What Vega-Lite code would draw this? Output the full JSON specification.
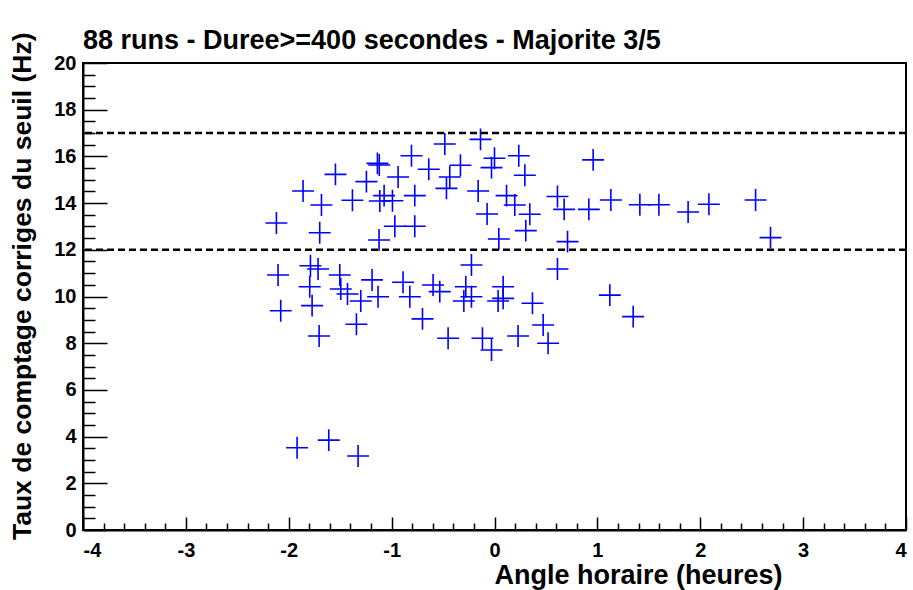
{
  "$schema": "https://vega.github.io/schema/vega-lite/v6.json",
  "width": 823,
  "height": 467,
  "autosize": {"type": "none"},
  "padding": {"left": 83, "top": 63, "right": 7, "bottom": 60},
  "background": "white",
  "config": {
    "view": {"stroke": "black", "strokeWidth": 2},
    "font": "Liberation Sans",
    "axis": {"grid": false, "labelFont": "Liberation Sans", "labelFontWeight": "bold", "labelFontSize": 20, "labelColor": "black", "titleFont": "Liberation Sans", "titleFontWeight": "bold", "titleColor": "black", "domainColor": "black", "domainWidth": 2, "tickColor": "black", "tickWidth": 1.5}
  },
  "title": {"text": "88 runs - Duree>=400 secondes - Majorite 3/5", "anchor": "start", "frame": "group", "font": "Liberation Sans", "fontWeight": "bold", "fontSize": 27, "color": "black", "offset": -23},
  "data": {"values": [
    {"x": -0.807, "y": 16.03}, {"x": -1.138, "y": 15.70}, {"x": -1.12, "y": 15.63}, {"x": -1.546, "y": 15.23},
    {"x": -0.639, "y": 15.45}, {"x": -0.937, "y": 15.12}, {"x": -1.245, "y": 14.92}, {"x": -1.861, "y": 14.52},
    {"x": -1.073, "y": 14.32}, {"x": -0.775, "y": 14.32}, {"x": -1.381, "y": 14.12}, {"x": -1.115, "y": 14.09},
    {"x": -0.992, "y": 14.10}, {"x": -1.682, "y": 13.92}, {"x": -2.120, "y": 13.15}, {"x": -1.699, "y": 12.73},
    {"x": -0.969, "y": 13.01}, {"x": -0.775, "y": 13.01}, {"x": -1.122, "y": 12.42}, {"x": -0.136, "y": 16.73},
    {"x": -0.483, "y": 16.53}, {"x": 0.0, "y": 15.92}, {"x": -0.029, "y": 15.52}, {"x": 0.236, "y": 16.03},
    {"x": -0.331, "y": 15.62}, {"x": 0.959, "y": 15.85}, {"x": 0.295, "y": 15.19}, {"x": -0.435, "y": 15.12},
    {"x": -0.467, "y": 14.63}, {"x": -0.159, "y": 14.52}, {"x": 0.117, "y": 14.32}, {"x": 0.197, "y": 13.92},
    {"x": 0.612, "y": 14.28}, {"x": 0.677, "y": 13.73}, {"x": 0.917, "y": 13.73}, {"x": -0.072, "y": 13.53},
    {"x": 0.343, "y": 13.52}, {"x": 0.304, "y": 12.82}, {"x": 0.042, "y": 12.46}, {"x": 0.710, "y": 12.35},
    {"x": 1.131, "y": 14.13}, {"x": 1.413, "y": 13.93}, {"x": 1.598, "y": 13.93}, {"x": 1.882, "y": 13.62},
    {"x": 2.084, "y": 13.95}, {"x": 2.538, "y": 14.13}, {"x": 2.683, "y": 12.52},
    {"x": -1.919, "y": 3.52}, {"x": -1.611, "y": 3.85}, {"x": -1.326, "y": 3.17},
    {"x": -2.104, "y": 10.92}, {"x": -1.789, "y": 11.32}, {"x": -1.715, "y": 11.18}, {"x": -1.504, "y": 10.92},
    {"x": -1.796, "y": 10.42}, {"x": -1.190, "y": 10.71}, {"x": -0.889, "y": 10.61}, {"x": -1.494, "y": 10.32},
    {"x": -1.429, "y": 10.11}, {"x": -1.300, "y": 9.81}, {"x": -1.132, "y": 9.99}, {"x": -0.823, "y": 9.99},
    {"x": -0.597, "y": 10.49}, {"x": -0.532, "y": 10.21}, {"x": -1.773, "y": 9.61}, {"x": -2.078, "y": 9.39},
    {"x": -1.342, "y": 8.81}, {"x": -0.700, "y": 9.04}, {"x": -1.705, "y": 8.31}, {"x": -0.224, "y": 11.35},
    {"x": 0.612, "y": 11.18}, {"x": -0.279, "y": 10.42}, {"x": -0.224, "y": 9.99}, {"x": -0.298, "y": 9.81},
    {"x": 0.084, "y": 10.42}, {"x": 0.084, "y": 9.92}, {"x": 0.035, "y": 9.81}, {"x": 0.369, "y": 9.71},
    {"x": 1.121, "y": 10.06}, {"x": -0.451, "y": 8.21}, {"x": -0.117, "y": 8.21}, {"x": -0.029, "y": 7.71},
    {"x": 0.229, "y": 8.31}, {"x": 0.473, "y": 8.78}, {"x": 0.521, "y": 8.00}, {"x": 1.348, "y": 9.14}
  ]},
  "layer": [
    {
      "mark": {"type": "point", "shape": "M-1,0H1M0,-1V1", "size": 480, "filled": false, "stroke": "#0000ff", "strokeWidth": 1.6, "opacity": 1},
      "encoding": {
        "x": {"field": "x", "type": "quantitative", "scale": {"domain": [-4, 4], "nice": false, "zero": false},
              "axis": {"values": [-4, -3, -2, -1, 0, 1, 2, 3, 4], "labelExpr": "'' + datum.value", "tickSize": -13, "labelPadding": 23, "title": "Angle horaire (heures)", "titleFontSize": 27, "titleAnchor": "end", "titleAlign": "right", "titleX": 699, "titleY": 45, "titleBaseline": "middle"}},
        "y": {"field": "y", "type": "quantitative", "scale": {"domain": [0, 20], "nice": false},
              "axis": {"values": [0, 2, 4, 6, 8, 10, 12, 14, 16, 18, 20], "labelExpr": "'' + datum.value", "tickSize": -24, "labelPadding": 31, "title": "Taux de comptage corriges du seuil (Hz)", "titleFontSize": 26.5, "titleAngle": 270, "titleAlign": "right", "titleBaseline": "middle", "titleX": -61, "titleY": -31}}
      }
    },
    {
      "data": {"values": [{"level": 12}, {"level": 17}]},
      "mark": {"type": "rule", "color": "black", "strokeWidth": 2.5, "strokeDash": [7, 4]},
      "encoding": {"y": {"field": "level", "type": "quantitative", "scale": {"domain": [0, 20], "nice": false}, "axis": null}}
    },
    {
      "data": {"values": [{"mx": -4, "my": 0}]},
      "mark": {"type": "point", "opacity": 0},
      "encoding": {
        "x": {"field": "mx", "type": "quantitative", "scale": {"domain": [-4, 4], "nice": false, "zero": false},
              "axis": {"orient": "bottom", "values": [-3.8, -3.6, -3.4, -3.2, -2.8, -2.6, -2.4, -2.2, -1.8, -1.6, -1.4, -1.2, -0.8, -0.6, -0.4, -0.2, 0.2, 0.4, 0.6, 0.8, 1.2, 1.4, 1.6, 1.8, 2.2, 2.4, 2.6, 2.8, 3.2, 3.4, 3.6, 3.8], "tickSize": -7, "labels": false, "domain": false, "title": null}},
        "y": {"field": "my", "type": "quantitative", "scale": {"domain": [0, 20], "nice": false},
              "axis": {"orient": "left", "values": [0.5, 1, 1.5, 2.5, 3, 3.5, 4.5, 5, 5.5, 6.5, 7, 7.5, 8.5, 9, 9.5, 10.5, 11, 11.5, 12.5, 13, 13.5, 14.5, 15, 15.5, 16.5, 17, 17.5, 18.5, 19, 19.5], "tickSize": -12, "labels": false, "domain": false, "title": null}}
      }
    }
  ],
  "resolve": {"axis": {"x": "independent", "y": "independent"}}
}
